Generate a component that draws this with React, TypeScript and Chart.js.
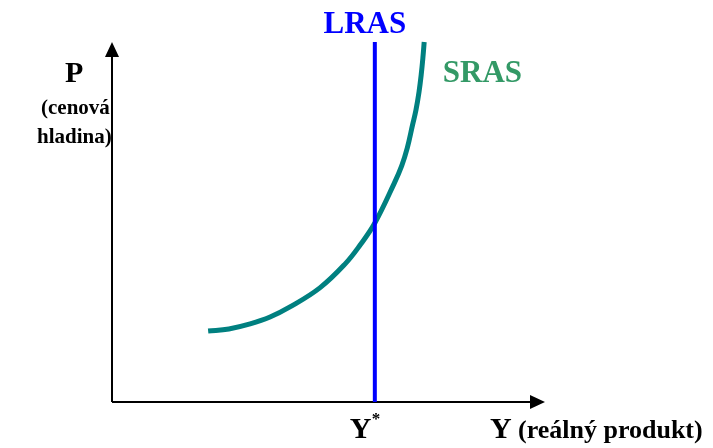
import React, { useEffect, useRef } from "react";
import { Chart, registerables } from "chart.js";

Chart.register(...registerables);

// Output (x) vs price level (y), both in arbitrary units 0..100
const srasOutput = [22.2, 27.0, 31.9, 36.5, 41.1, 48.0, 53.8, 57.3, 60.7, 65.2, 66.9, 68.2, 69.4, 70.2, 70.9, 71.4, 71.8, 72.1];
const srasPrice = [19.7, 20.3, 21.7, 23.6, 26.4, 31.7, 38.3, 43.6, 49.7, 60.8, 65.6, 70.6, 76.9, 81.1, 86.1, 90.8, 95.6, 100];
const potentialOutput = 60.7; // Y*
const lrasPrice = [0, 100];
const axisMax = 100;

const FONT = "'Liberation Serif', 'Times New Roman', serif";

const overlayPlugin = {
  id: "econOverlay",
  beforeDatasetsDraw(chart: any) {
    const { ctx, scales } = chart;
    const x = scales.x;
    const y = scales.y;
    const x0 = x.getPixelForValue(0);
    const y0 = y.getPixelForValue(0);
    const xTip = x.getPixelForValue(axisMax);
    const yTip = y.getPixelForValue(axisMax);
    ctx.save();
    ctx.strokeStyle = "#000";
    ctx.fillStyle = "#000";
    ctx.lineWidth = 2;
    ctx.beginPath();
    ctx.moveTo(x0, y0);
    ctx.lineTo(x0, yTip + 12);
    ctx.moveTo(x0, y0);
    ctx.lineTo(xTip - 12, y0);
    ctx.stroke();
    // arrowheads
    ctx.beginPath();
    ctx.moveTo(x0, yTip);
    ctx.lineTo(x0 - 7, yTip + 15);
    ctx.lineTo(x0 + 7, yTip + 15);
    ctx.closePath();
    ctx.fill();
    ctx.beginPath();
    ctx.moveTo(xTip, y0);
    ctx.lineTo(xTip - 15, y0 - 7);
    ctx.lineTo(xTip - 15, y0 + 7);
    ctx.closePath();
    ctx.fill();
    ctx.restore();
  },
  afterDatasetsDraw(chart: any) {
    const { ctx, scales } = chart;
    const x = scales.x;
    const y = scales.y;
    const xs = x.getPixelForValue(potentialOutput);
    const x0 = x.getPixelForValue(0);
    const y0 = y.getPixelForValue(0);
    const yTip = y.getPixelForValue(axisMax);
    ctx.save();
    ctx.textBaseline = "alphabetic";
    ctx.textAlign = "center";
    ctx.fillStyle = "#0000FF";
    ctx.font = `bold 31px ${FONT}`;
    ctx.fillText("LRAS", xs - 10, yTip - 9);

    ctx.textAlign = "left";
    ctx.fillStyle = "#339966";
    ctx.font = `bold 31px ${FONT}`;
    ctx.fillText("SRAS", xs + 68, yTip + 40);

    ctx.fillStyle = "#000";
    ctx.font = `bold 30px ${FONT}`;
    ctx.fillText("P", x0 - 47, yTip + 40);
    ctx.font = `bold 21px ${FONT}`;
    ctx.fillText("(cenová", x0 - 71, yTip + 72);
    ctx.fillText("hladina)", x0 - 75, yTip + 101);

    ctx.font = `bold 30px ${FONT}`;
    ctx.fillText("Y", xs - 25, y0 + 36);
    ctx.font = `bold 17px ${FONT}`;
    ctx.fillText("*", xs - 3, y0 + 22);

    ctx.font = `bold 30px ${FONT}`;
    ctx.fillText("Y", x0 + 378, y0 + 36);
    ctx.font = `bold 26px ${FONT}`;
    ctx.fillText("(reálný produkt)", x0 + 406, y0 + 36);
    ctx.restore();
  },
};

export default function App() {
  const ref = useRef<HTMLCanvasElement | null>(null);
  useEffect(() => {
    if (!ref.current) return;
    const chart = new Chart(ref.current, {
      type: "line",
      data: {
        datasets: [
          {
            label: "LRAS",
            data: lrasPrice.map((p) => ({ x: potentialOutput, y: p })),
            borderColor: "#0000FF",
            borderWidth: 4,
            pointRadius: 0,
            clip: false,
          } as any,
          {
            label: "SRAS",
            data: srasOutput.map((v, i) => ({ x: v, y: srasPrice[i] })),
            borderColor: "#008080",
            borderWidth: 5,
            pointRadius: 0,
            tension: 0.4,
            borderCapStyle: "butt",
            clip: false,
          } as any,
        ],
      },
      options: {
        animation: false,
        responsive: false,
        layout: { padding: { left: 112, right: 168, top: 42, bottom: 46 } },
        plugins: { legend: { display: false }, tooltip: { enabled: false } },
        scales: {
          x: { type: "linear", min: 0, max: axisMax, display: false },
          y: { type: "linear", min: 0, max: axisMax, display: false },
        },
      },
      plugins: [overlayPlugin],
    });
    return () => chart.destroy();
  }, []);
  return (
    <div style={{ position: "fixed", left: 0, top: 0, width: 713, height: 448, background: "#fff" }}>
      <canvas ref={ref} width={713} height={448} />
    </div>
  );
}
